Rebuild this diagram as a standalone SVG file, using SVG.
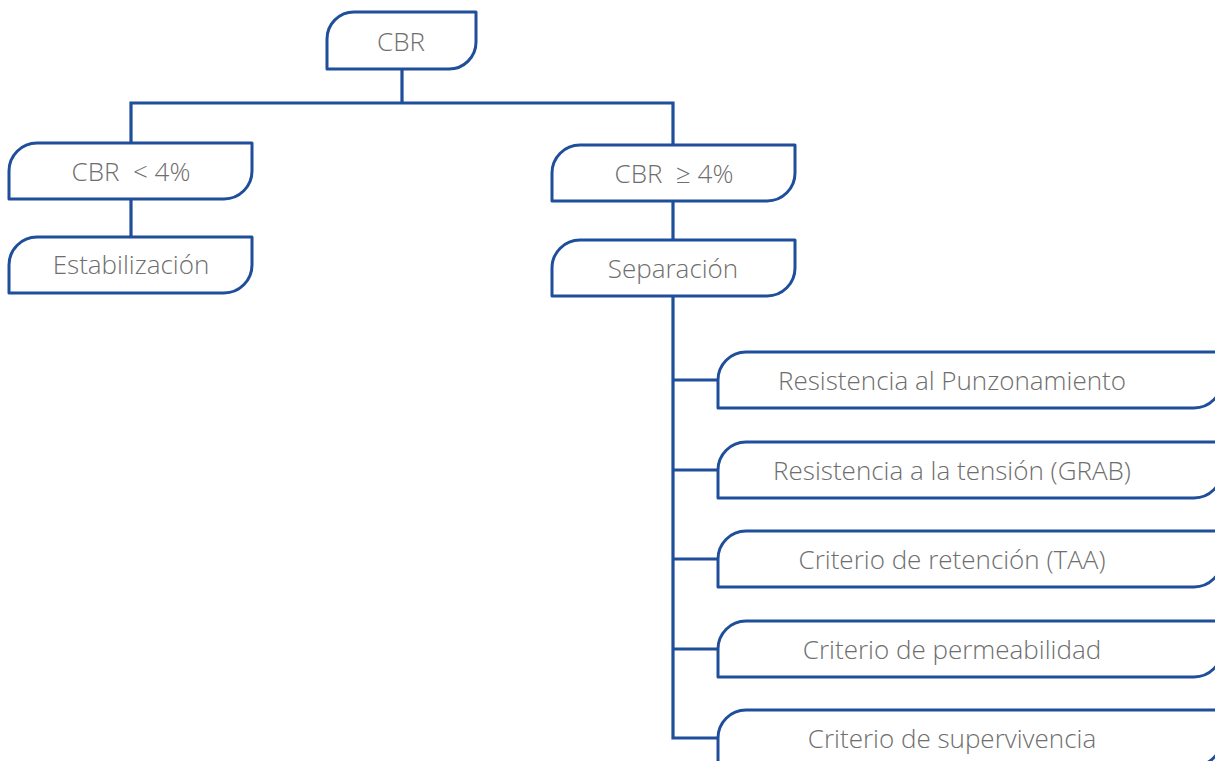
<svg xmlns="http://www.w3.org/2000/svg" width="1215" height="761" viewBox="0 0 1215 761">
<style>
.box{fill:#fff;stroke:#1f4f9b;stroke-width:3;stroke-linejoin:round}
.con{fill:none;stroke:#1f4f9b;stroke-width:3.2;stroke-linecap:square}
.t{font-family:"Open Sans","Liberation Sans",sans-serif;font-weight:300;font-size:26px;fill:#6e6e6e;text-anchor:middle}
</style>
<rect width="1215" height="761" fill="#fff"/>
<g id="connectors">
<path class="con" d="M402 69V103M131 103H673M131 103V143M673 103V145M131 199V237M673 201V240M673 296V738M673 380H718M673 470H718M673 559H718M673 649H718M673 738H718"/>
</g>
<g id="n-cbr"><path class="box" d="M354 12H476V42A27 27 0 0 1 449 69H327V39A27 27 0 0 1 354 12Z"/><text class="t" x="401" y="51">CBR</text></g>
<g id="n-lt4"><path class="box" d="M37 143H252V171A28 28 0 0 1 224 199H9V171A28 28 0 0 1 37 143Z"/><text class="t" x="131" y="181" xml:space="preserve">CBR  &lt; 4%</text></g>
<g id="n-estab"><path class="box" d="M37 237H252V265A28 28 0 0 1 224 293H9V265A28 28 0 0 1 37 237Z"/><text class="t" x="131" y="274">Estabilización</text></g>
<g id="n-ge4"><path class="box" d="M580 145H795V173A28 28 0 0 1 767 201H552V173A28 28 0 0 1 580 145Z"/><text class="t" x="674" y="183" xml:space="preserve">CBR  ≥ 4%</text></g>
<g id="n-sep"><path class="box" d="M580 240H795V268A28 28 0 0 1 767 296H552V268A28 28 0 0 1 580 240Z"/><text class="t" x="673" y="278">Separación</text></g>
<g id="n-punz"><path class="box" d="M746 352H1222V380A28 28 0 0 1 1194 408H718V380A28 28 0 0 1 746 352Z"/><text class="t" x="952" y="390">Resistencia al Punzonamiento</text></g>
<g id="n-grab"><path class="box" d="M746 442H1222V470A28 28 0 0 1 1194 498H718V470A28 28 0 0 1 746 442Z"/><text class="t" x="952" y="480">Resistencia a la tensión (GRAB)</text></g>
<g id="n-taa"><path class="box" d="M746 531H1222V559A28 28 0 0 1 1194 587H718V559A28 28 0 0 1 746 531Z"/><text class="t" x="952" y="569">Criterio de retención (TAA)</text></g>
<g id="n-perm"><path class="box" d="M746 621H1222V649A28 28 0 0 1 1194 677H718V649A28 28 0 0 1 746 621Z"/><text class="t" x="952" y="659">Criterio de permeabilidad</text></g>
<g id="n-superv"><path class="box" d="M746 710H1222V738A28 28 0 0 1 1194 766H718V738A28 28 0 0 1 746 710Z"/><text class="t" x="952" y="748">Criterio de supervivencia</text></g>
</svg>
